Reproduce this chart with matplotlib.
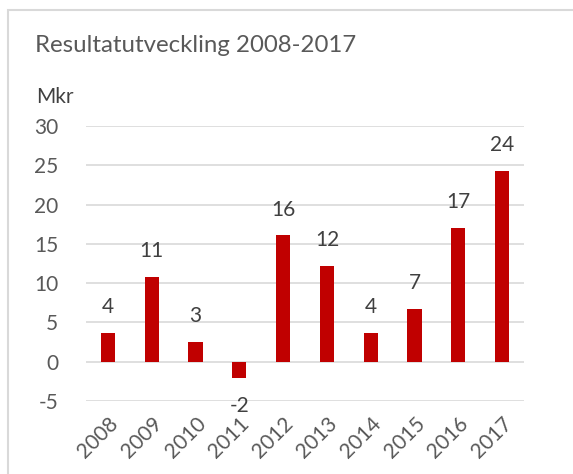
import matplotlib
matplotlib.use("Agg")
import matplotlib.pyplot as plt
from matplotlib.patches import Rectangle

years = ["2008", "2009", "2010", "2011", "2012", "2013", "2014", "2015", "2016", "2017"]
result = [3.7, 10.8, 2.5, -2.1, 16.1, 12.2, 3.7, 6.7, 17.0, 24.3]
labels = ["4", "11", "3", "-2", "16", "12", "4", "7", "17", "24"]

plt.rcParams['font.family'] = ['Lato', 'DejaVu Sans']
plt.rcParams['axes.unicode_minus'] = False
text_col = "#595959"

fig = plt.figure(figsize=(5.73, 4.74), dpi=100)
fig.patches.append(Rectangle((8 / 573, -0.1), 1.2, 1 - 10 / 474 + 0.1, transform=fig.transFigure,
                             fill=False, edgecolor="#d9d9d9", linewidth=1.5))

ax = fig.add_axes([86 / 573, 1 - 401 / 474, (524 - 86) / 573, (401 - 126) / 474])
x = range(len(years))
ax.bar(x, result, width=0.32, color="#c00000", zorder=3)
for i, (v, lab) in enumerate(zip(result, labels)):
    if v >= 0:
        ax.text(i, v + 2.0, lab, ha="center", va="bottom", fontsize=15, color="#404040")
    else:
        ax.text(i, v - 2.3, lab, ha="center", va="top", fontsize=15, color="#404040")

ax.set_ylim(-5, 30)
ax.set_xlim(-0.5, len(years) - 0.5)
ax.set_yticks(range(-5, 31, 5))
ax.yaxis.grid(True, color="#d9d9d9", linewidth=1.2, zorder=0)
ax.set_xticks(list(x))
ax.set_xticklabels(years, rotation=45, ha="right", rotation_mode="anchor")
ax.tick_params(axis="both", length=0, labelsize=15, labelcolor=text_col)
ax.tick_params(axis="y", pad=20)
ax.tick_params(axis="x", pad=9)
for s in ax.spines.values():
    s.set_visible(False)

fig.text(35 / 573, 1 - 45 / 474, "Resultatutveckling 2008-2017", fontsize=17.3, color=text_col, va="center")
fig.text(36 / 573, 1 - 97 / 474, "Mkr", fontsize=15, color="#404040", va="center")

fig.savefig("out.png", dpi=100)
